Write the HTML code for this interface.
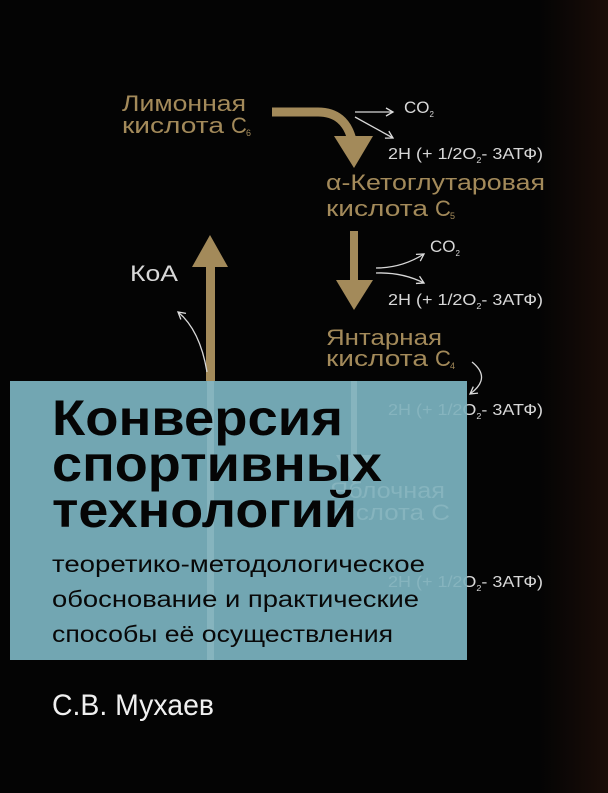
<!DOCTYPE html>
<html><head><meta charset="utf-8"><style>
html,body{margin:0;padding:0;background:#040404;}
svg{display:block}
text{font-family:"Liberation Sans","DejaVu Sans",sans-serif}
</style></head><body>
<svg width="608" height="793" viewBox="0 0 608 793" xmlns="http://www.w3.org/2000/svg">
<defs>
<linearGradient id="rg" x1="0" x2="1">
<stop offset="0" stop-color="#040404"/><stop offset="1" stop-color="#1a0d08"/>
</linearGradient>
<marker id="ah" markerWidth="10" markerHeight="10" refX="8" refY="5" orient="auto" markerUnits="userSpaceOnUse">
<path d="M1,1 L8,5 L1,9" fill="none" stroke="#ddd" stroke-width="1.3"/>
</marker>
<clipPath id="pc"><rect x="10" y="381" width="457" height="279"/></clipPath>
</defs>
<rect width="608" height="793" fill="#040404"/>
<rect x="540" width="68" height="793" fill="url(#rg)"/>

<!-- gold labels -->
<g fill="#a38a5a" font-size="22">
<text x="122" y="111" textLength="124" lengthAdjust="spacingAndGlyphs">Лимонная</text>
<text x="122" y="133" textLength="102" lengthAdjust="spacingAndGlyphs">кислота</text><text x="231" y="133">С</text><text x="246" y="136" font-size="9">6</text>
<text x="326" y="190" textLength="219" lengthAdjust="spacingAndGlyphs">α-Кетоглутаровая</text>
<text x="326" y="216" textLength="102" lengthAdjust="spacingAndGlyphs">кислота</text><text x="435" y="216">С</text><text x="450" y="219" font-size="9">5</text>
<text x="326" y="345" textLength="116" lengthAdjust="spacingAndGlyphs">Янтарная</text>
<text x="326" y="366" textLength="102" lengthAdjust="spacingAndGlyphs">кислота</text><text x="435" y="366">С</text><text x="450" y="369" font-size="9">4</text>
</g>

<!-- gold arrows -->
<path d="M272,112 L318,112 Q345,112 352,140" fill="none" stroke="#a38a5a" stroke-width="9"/>
<polygon points="334,136 373,136 354,168" fill="#a38a5a"/>
<rect x="350" y="231" width="8" height="52" fill="#a38a5a"/>
<polygon points="336,280 373,280 354,310" fill="#a38a5a"/>
<rect x="206" y="264" width="9" height="118" fill="#a38a5a"/>
<polygon points="192,267 228,267 210,235" fill="#a38a5a"/>

<!-- white labels -->
<g fill="#d8d8d8">
<text x="404" y="113" font-size="17">CO<tspan font-size="8" dy="4">2</tspan></text>
<text x="430" y="252" font-size="17">CO<tspan font-size="8" dy="4">2</tspan></text>
<text x="130" y="281" font-size="22" textLength="48" lengthAdjust="spacingAndGlyphs">КоА</text>
<text x="388" y="159" font-size="16" textLength="155" lengthAdjust="spacingAndGlyphs">2H (+ 1/2O<tspan font-size="8" dy="4">2</tspan><tspan dy="-4">- 3АТФ)</tspan></text>
<text x="388" y="305" font-size="16" textLength="155" lengthAdjust="spacingAndGlyphs">2H (+ 1/2O<tspan font-size="8" dy="4">2</tspan><tspan dy="-4">- 3АТФ)</tspan></text>
<text x="388" y="415" font-size="16" textLength="155" lengthAdjust="spacingAndGlyphs">2H (+ 1/2O<tspan font-size="8" dy="4">2</tspan><tspan dy="-4">- 3АТФ)</tspan></text>
<text x="388" y="587" font-size="16" textLength="155" lengthAdjust="spacingAndGlyphs">2H (+ 1/2O<tspan font-size="8" dy="4">2</tspan><tspan dy="-4">- 3АТФ)</tspan></text>
</g>
<g fill="none" stroke="#d8d8d8" stroke-width="1.3" marker-end="url(#ah)">
<path d="M355,112 L393,112"/>
<path d="M355,117 L393,138"/>
<path d="M376,268 Q402,268 424,254"/>
<path d="M376,273 Q402,272 424,283"/>
<path d="M207,372 Q200,330 178,312"/>
<path d="M472,362 Q492,378 470,394"/>
</g>

<!-- panel -->
<rect x="10" y="381" width="457" height="279" fill="#72a6b2"/>
<!-- faint background elements -->
<g fill="#86b4be" clip-path="url(#pc)">
<rect x="207" y="381" width="7" height="279"/>
<rect x="351" y="381" width="6" height="80"/>
<polygon points="336,455 372,455 354,485"/>
<text x="330" y="498" font-size="22" textLength="115" lengthAdjust="spacingAndGlyphs">Яблочная</text>
<text x="330" y="520" font-size="22" textLength="120" lengthAdjust="spacingAndGlyphs">кислота С</text>
<text x="388" y="415" font-size="16" textLength="155" lengthAdjust="spacingAndGlyphs">2H (+ 1/2O<tspan font-size="8" dy="4">2</tspan><tspan dy="-4">- 3АТФ)</tspan></text>
<text x="388" y="587" font-size="16" textLength="155" lengthAdjust="spacingAndGlyphs">2H (+ 1/2O<tspan font-size="8" dy="4">2</tspan><tspan dy="-4">- 3АТФ)</tspan></text>
</g>

<!-- title -->
<g fill="#050505" font-weight="bold" font-size="50">
<text x="52" y="435" textLength="291" lengthAdjust="spacingAndGlyphs">Конверсия</text>
<text x="52" y="481" textLength="330" lengthAdjust="spacingAndGlyphs">спортивных</text>
<text x="52" y="527" textLength="305" lengthAdjust="spacingAndGlyphs">технологий</text>
</g>
<g fill="#080808" font-size="23">
<text x="52" y="572" textLength="373" lengthAdjust="spacingAndGlyphs">теоретико-методологическое</text>
<text x="52" y="607" textLength="367" lengthAdjust="spacingAndGlyphs">обоснование и практические</text>
<text x="52" y="642" textLength="341" lengthAdjust="spacingAndGlyphs">способы её осуществления</text>
</g>

<text x="52" y="715" fill="#f0f0f0" font-size="30" textLength="162" lengthAdjust="spacingAndGlyphs">С.В. Мухаев</text>
</svg>
</body></html>
